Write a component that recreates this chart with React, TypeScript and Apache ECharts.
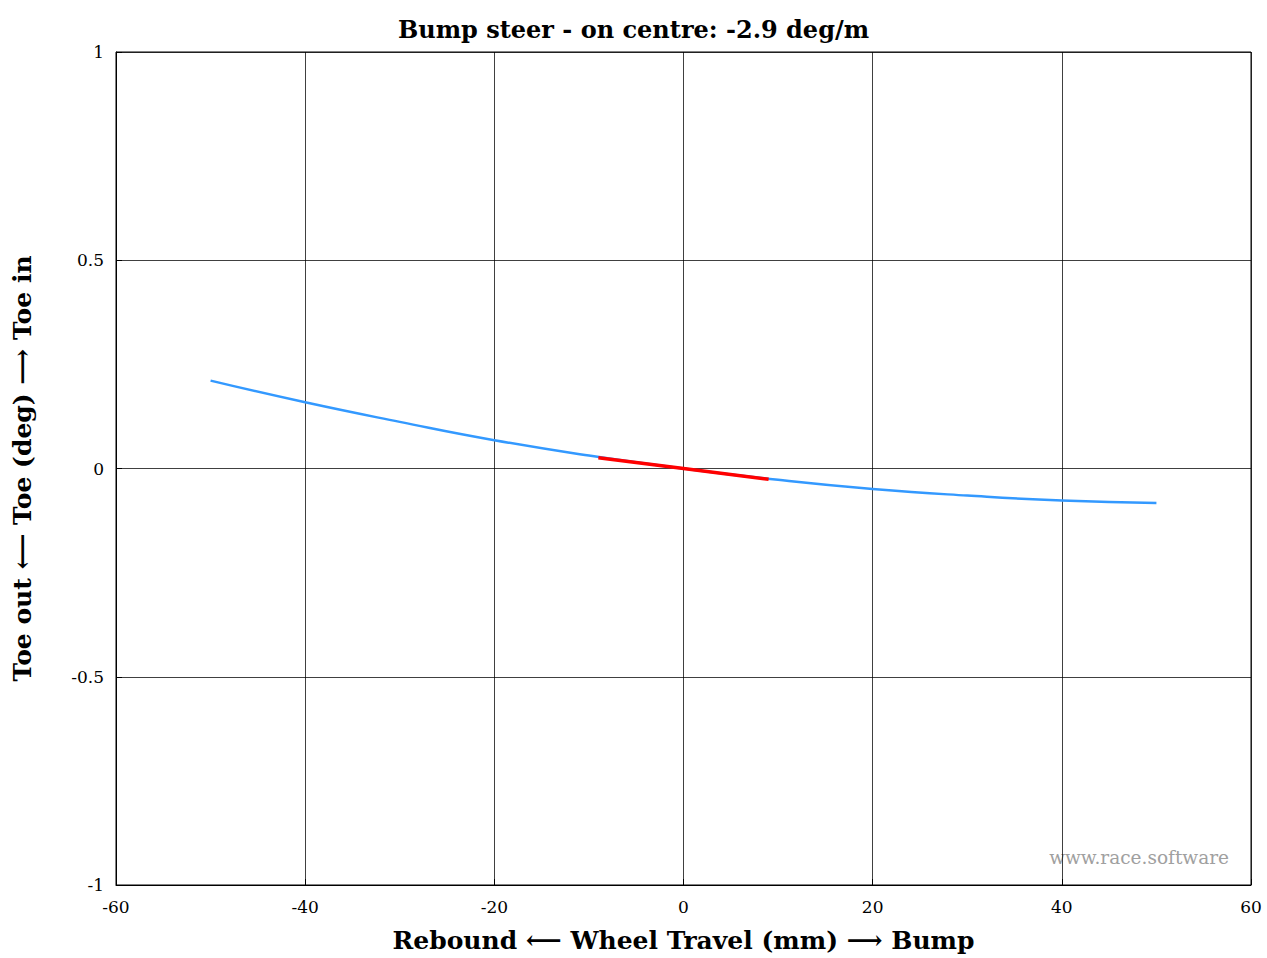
import React, { useEffect, useRef } from "react";
import * as echarts from "echarts";

const travel = [-50, -40, -30, -20, -10, 0, 10, 20, 30, 40, 50];
const toe = [0.211, 0.159, 0.112, 0.068, 0.031, 0, -0.027, -0.049, -0.065, -0.077, -0.083];
const onCentreTravel = [-9, 0, 9];
const onCentreToe = [0.026, 0, -0.026];

const FONT = "'DejaVu Serif', 'Liberation Serif', serif";

export default function App() {
  const ref = useRef<HTMLDivElement>(null);
  useEffect(() => {
    if (!ref.current) return;
    const chart = echarts.init(ref.current, undefined, { renderer: "svg" });
    chart.setOption({
      animation: false,
      backgroundColor: "#fff",
      title: {
        text: "Bump steer - on centre: -2.9 deg/m",
        left: "center",
        top: 12,
        textStyle: { fontFamily: FONT, fontWeight: "bold", fontSize: 24, color: "#000" },
      },
      grid: { left: 116, right: 16, top: 52, bottom: 71, show: true, borderColor: "#000", borderWidth: 1 },
      xAxis: {
        type: "value",
        min: -60,
        max: 60,
        interval: 20,
        name: "Rebound \u27F5 Wheel Travel (mm) \u27F6 Bump",
        nameLocation: "middle",
        nameGap: 43,
        nameTextStyle: { fontFamily: FONT, fontWeight: "bold", fontSize: 25, color: "#000" },
        axisLine: { show: true, onZero: false, lineStyle: { color: "#000", width: 1 } },
        axisTick: { show: true, inside: true, length: 6, lineStyle: { color: "#000" } },
        axisLabel: { fontFamily: FONT, fontSize: 17, color: "#000", margin: 13 },
        splitLine: { show: true, lineStyle: { color: "#000", width: 1, opacity: 0.75 } },
      },
      yAxis: {
        type: "value",
        min: -1,
        max: 1,
        interval: 0.5,
        name: "Toe out \u27F5 Toe (deg) \u27F6 Toe in",
        nameLocation: "middle",
        nameGap: 81,
        nameRotate: 90,
        nameTextStyle: { fontFamily: FONT, fontWeight: "bold", fontSize: 25, color: "#000" },
        axisLine: { show: true, onZero: false, lineStyle: { color: "#000", width: 1 } },
        axisTick: { show: true, inside: true, length: 6, lineStyle: { color: "#000" } },
        axisLabel: { fontFamily: FONT, fontSize: 17, color: "#000", margin: 12 },
        splitLine: { show: true, lineStyle: { color: "#000", width: 1, opacity: 0.75 } },
      },
      graphic: [
        {
          type: "text",
          right: 38,
          top: 848,
          style: { text: "www.race.software", fill: "#a0a0a0", font: `18.5px ${FONT}` },
        },
      ],
      series: [
        {
          type: "line",
          data: travel.map((x, i) => [x, toe[i]]),
          smooth: true,
          showSymbol: false,
          lineStyle: { color: "#3399ff", width: 2.5 },
          z: 2,
        },
        {
          type: "line",
          data: onCentreTravel.map((x, i) => [x, onCentreToe[i]]),
          showSymbol: false,
          lineStyle: { color: "#ff0000", width: 3.5 },
          z: 3,
        },
      ],
    });
    return () => chart.dispose();
  }, []);
  return <div ref={ref} style={{ width: 1267, height: 958, position: "absolute", left: 0, top: 0 }} />;
}
